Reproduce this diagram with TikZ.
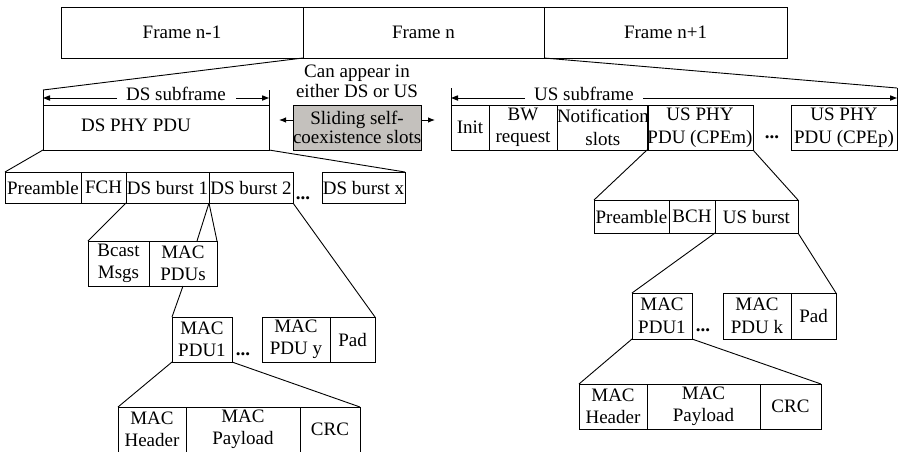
\documentclass[tikz,border=0pt]{standalone}
\usepackage{fontspec}
\setmainfont{Liberation Serif}
\usetikzlibrary{arrows.meta}
\definecolor{slotgray}{RGB}{196,193,189}
\tikzset{
  lw/.style={line width=0.9pt},
  cell/.style={draw, lw, inner sep=0pt, outer sep=0pt, anchor=north west,
    align=center, font=\fontsize{19}{22.5}\selectfont},
  txt/.style={inner sep=0pt, outer sep=0pt, align=center,
    font=\fontsize{19}{20}\selectfont},
  dots/.style={inner sep=0pt, outer sep=0pt, anchor=base,
    font=\fontsize{19}{20}\selectfont\bfseries},
  link/.style={draw, lw},
  side/.style={lw, -{Latex[length=7pt,width=5.5pt]}},
  tip/.style={fill=black, draw=none},
  lbl/.style={inner sep=0pt, outer sep=0pt, font=\fontsize{19}{20}\selectfont}
}
\begin{document}
\begin{tikzpicture}[x=1pt,y=-1pt]
\useasboundingbox (0,0) rectangle (898,451);
\clip (0,0) rectangle (898,451);

% frames
\node[cell, minimum width=242pt, minimum height=51pt] (fprev) at (61,7) {Frame n-1};
\node[cell, minimum width=241pt, minimum height=51pt] (fcur) at (303,7) {Frame n};
\node[cell, minimum width=243pt, minimum height=51pt] (fnext) at (544,7) {Frame n+1};

% downstream subframe
\node[cell, minimum width=226pt, minimum height=45pt] (dsphy) at (43,105) {};
\node[txt] (dsphytext) at (136,125) {DS PHY PDU};
\coordinate (dstl) at (43,90);
\coordinate (dstr) at (269,90);
\draw[lw] (dstl) -- (dsphy.north west);
\draw[lw] (dstr) -- (dsphy.north east);
\node[lbl] (dslabel) at (176,94) {DS subframe};
\coordinate (dsal) at (43,98);
\coordinate (dsar) at (269,98);
\coordinate (dsgl) at (117,98);
\coordinate (dsgr) at (236,98);
\draw[lw] (dsgl) -- ([xshift=6pt]dsal);
\draw[lw] (dsgr) -- ([xshift=-6pt]dsar);
\fill[tip] (dsal) -- ++(7,-2.75) -- ++(0,5.5) -- cycle;
\fill[tip] (dsar) -- ++(-7,-2.75) -- ++(0,5.5) -- cycle;

% self-coexistence slots
\node[txt] (canappear) at (357,81) {Can appear in\\either DS or US};
\node[cell, fill=slotgray, minimum width=128pt, minimum height=45pt,
  font=\fontsize{19}{19.5}\selectfont] (slide) at (293,105) {Sliding self-\\coexistence slots};
\coordinate (slideL) at (279,120);
\coordinate (slideR) at (435,120);
\draw[side] (slide.west |- slideL) -- (slideL);
\draw[side] (slide.east |- slideR) -- (slideR);

% DS PHY PDU contents
\node[cell, minimum width=76pt, minimum height=31pt] (dspre) at (5,172) {Preamble};
\node[cell, minimum width=45pt, minimum height=31pt] (dsfch) at (81,172) {FCH};
\node[cell, minimum width=83pt, minimum height=31pt] (dsb1) at (126,172) {DS burst 1};
\node[cell, minimum width=84pt, minimum height=31pt] (dsb2) at (209,172) {DS burst 2};
\node[dots] (dsdots) at (303,199) {...};
\node[cell, minimum width=83pt, minimum height=31pt] (dsbx) at (322,172) {DS burst x};

% DS burst contents
\node[cell, minimum width=61pt, minimum height=45pt] (bcast) at (88,241) {Bcast\\Msgs};
\node[cell, minimum width=68pt, minimum height=45pt] (macpdus) at (149,241) {MAC\\PDUs};
\coordinate (macpdusin) at (197,241);

\node[cell, minimum width=60pt, minimum height=45pt] (dsm1) at (172,317) {MAC\\PDU1};
\node[dots] (dsmdots) at (243,355) {...};
\node[cell, minimum width=68pt, minimum height=45pt] (dsmy) at (262,317) {MAC\\PDU y};
\node[cell, minimum width=45pt, minimum height=45pt] (dspad) at (330,317) {Pad};

\node[cell, minimum width=68pt, minimum height=45pt] (dshdr) at (118,407) {MAC\\Header};
\node[cell, minimum width=114pt, minimum height=45pt] (dspay) at (186,407) {MAC\\Payload};
\node[cell, minimum width=60pt, minimum height=45pt] (dscrc) at (300,407) {CRC};

% upstream subframe
\coordinate (ustl) at (451,88);
\coordinate (ustr) at (897,88);
\node[cell, minimum width=38pt, minimum height=45pt] (usinit) at (451,105) {Init};
\node[cell, minimum width=68pt, minimum height=45pt] (usbw) at (489,105) {BW\\request};
\node[cell, minimum width=90pt, minimum height=45pt] (usnot) at (557,105) {Notification\\slots};
\node[cell, minimum width=106pt, minimum height=45pt] (uscpem) at (647,105) {US PHY\\PDU (CPEm)};
\node[dots] (usdots) at (772,138) {...};
\node[cell, minimum width=106pt, minimum height=45pt] (uscpep) at (791,105) {US PHY\\PDU (CPEp)};
\draw[lw] (ustl) -- (usinit.north west);
\draw[lw] (ustr) -- (uscpep.north east);
\node[lbl] (uslabel) at (584,94) {US subframe};
\coordinate (usal) at (451,98);
\coordinate (usar) at (897,98);
\coordinate (usgl) at (525,98);
\coordinate (usgr) at (643,98);
\draw[lw] (usgl) -- ([xshift=6pt]usal);
\draw[lw] (usgr) -- ([xshift=-6pt]usar);
\fill[tip] (usal) -- ++(7,-2.75) -- ++(0,5.5) -- cycle;
\fill[tip] (usar) -- ++(-7,-2.75) -- ++(0,5.5) -- cycle;

% US PHY PDU contents
\node[cell, minimum width=75pt, minimum height=33pt] (uspre) at (594,200) {Preamble};
\node[cell, minimum width=46pt, minimum height=33pt] (usbch) at (669,200) {BCH};
\node[cell, minimum width=83pt, minimum height=33pt] (usburst) at (715,200) {US burst};

\node[cell, minimum width=60pt, minimum height=46pt] (usm1) at (632,293) {MAC\\PDU1};
\node[dots] (usmdots) at (703,331) {...};
\node[cell, minimum width=68pt, minimum height=46pt] (usmk) at (723,293) {MAC\\PDU k};
\node[cell, minimum width=45pt, minimum height=46pt] (uspad) at (791,293) {Pad};

\node[cell, minimum width=68pt, minimum height=45pt] (ushdr) at (579,384) {MAC\\Header};
\node[cell, minimum width=113pt, minimum height=45pt] (uspay) at (647,384) {MAC\\Payload};
\node[cell, minimum width=61pt, minimum height=45pt] (uscrc) at (760,384) {CRC};

% expansion lines
\draw[link] (fcur.south west) -- (dstl);
\draw[link] (fnext.south west) -- (ustr);
\draw[link] (dsphy.south west) -- (dspre.north west);
\draw[link] (dsphy.south east) -- (dsbx.north east);
\draw[link] (dsb1.south west) -- (bcast.north west);
\draw[link] (dsb1.south east) -- (macpdusin);
\draw[link] (dsb1.south east) -- (macpdus.north east);
\draw[link] (dsb2.south east) -- (dspad.north east);
\draw[link] (macpdus.south) -- (dsm1.north west);
\draw[link] (dsm1.south west) -- (dshdr.north west);
\draw[link] (dsm1.south east) -- (dscrc.north east);
\draw[link] (uscpem.south west) -- (uspre.north west);
\draw[link] (uscpem.south east) -- (usburst.north east);
\draw[link] (usburst.south west) -- (usm1.north west);
\draw[link] (usburst.south east) -- (uspad.north east);
\draw[link] (usm1.south west) -- (ushdr.north west);
\draw[link] (usm1.south east) -- (uscrc.north east);
\end{tikzpicture}
\end{document}
